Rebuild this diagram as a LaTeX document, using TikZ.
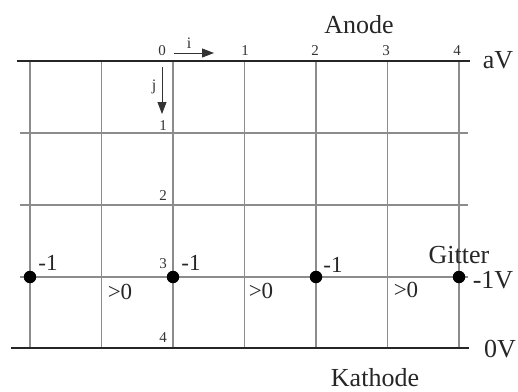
\documentclass[tikz,border=0pt]{standalone}
\usepackage{fontspec}
\setmainfont{Liberation Serif}
\usetikzlibrary{arrows.meta}
\begin{document}
\begin{tikzpicture}[x=1pt,y=-1pt,
  gridline/.style={draw=black!45,line width=1.4pt},
  electrode/.style={draw=black!85,line width=2.6pt},
  dot/.style={circle,fill=black,inner sep=0pt,minimum size=12.5pt},
  big/.style={font=\fontsize{26}{26}\selectfont,anchor=base,inner sep=0pt,text=black!85},
  mid/.style={font=\fontsize{23}{23}\selectfont,anchor=base,inner sep=0pt,text=black!85},
  small/.style={font=\fontsize{15}{15}\selectfont,anchor=base,inner sep=0pt,text=black!80},
  idx/.style={-{Triangle[length=12pt,width=9pt]},line width=1pt,draw=black!80}]
\useasboundingbox (0,0) rectangle (518,391);
% grid
\foreach \x in {30,101.5,173,244.5,316,387.5,459}
  \draw[gridline] (\x,61) -- (\x,348);
\foreach \y in {133,205,277}
  \draw[gridline] (20,\y) -- (468,\y);
% electrodes
\draw[electrode] (17,61) -- (470,61);
\draw[electrode] (11,348) -- (469,348);
% grid wires (Gitter)
\node[dot] (g0) at (30,277) {};
\node[dot] (g1) at (173,277) {};
\node[dot] (g2) at (316,277) {};
\node[dot] (g3) at (459,277) {};
% labels
\node[big] (anode) at (359,33) {Anode};
\node[big] (kathode) at (375,386) {Kathode};
\node[big] (av) at (498,68) {aV};
\node[big] (ov) at (500,357) {0V};
\node[big] (gitter) at (459,263) {Gitter};
\node[big] (mv) at (493,288) {-1V};
\node[mid] (m0) at (48,270) {-1};
\node[mid] (m1) at (191,270) {-1};
\node[mid] (m2) at (333,272) {-1};
\node[mid] (p0) at (120,299) {>0};
\node[mid] (p1) at (261,298) {>0};
\node[mid] (p2) at (406,297) {>0};
% column indices
\node[small] (c0) at (162,55) {0};
\node[small] (c1) at (245,55) {1};
\node[small] (c2) at (315,55) {2};
\node[small] (c3) at (386,55) {3};
\node[small] (c4) at (457,55) {4};
% row indices
\node[small] (r1) at (163,130) {1};
\node[small] (r2) at (163,200) {2};
\node[small] (r3) at (163,268) {3};
\node[small] (r4) at (163,342) {4};
% index arrows
\coordinate (ia) at (174,53);
\coordinate (ib) at (214,53);
\draw[idx] (ia) -- (ib) node[pos=0.38,above=1pt,font=\fontsize{16}{16}\selectfont,text=black!80] (ilab) {i};
\coordinate (ja) at (162,67);
\coordinate (jb) at (162,114);
\draw[idx,line width=0.8pt] (ja) -- (jb) node[pos=0.42,left=2pt,font=\fontsize{16}{16}\selectfont,text=black!80] (jlab) {j};
\end{tikzpicture}
\end{document}
